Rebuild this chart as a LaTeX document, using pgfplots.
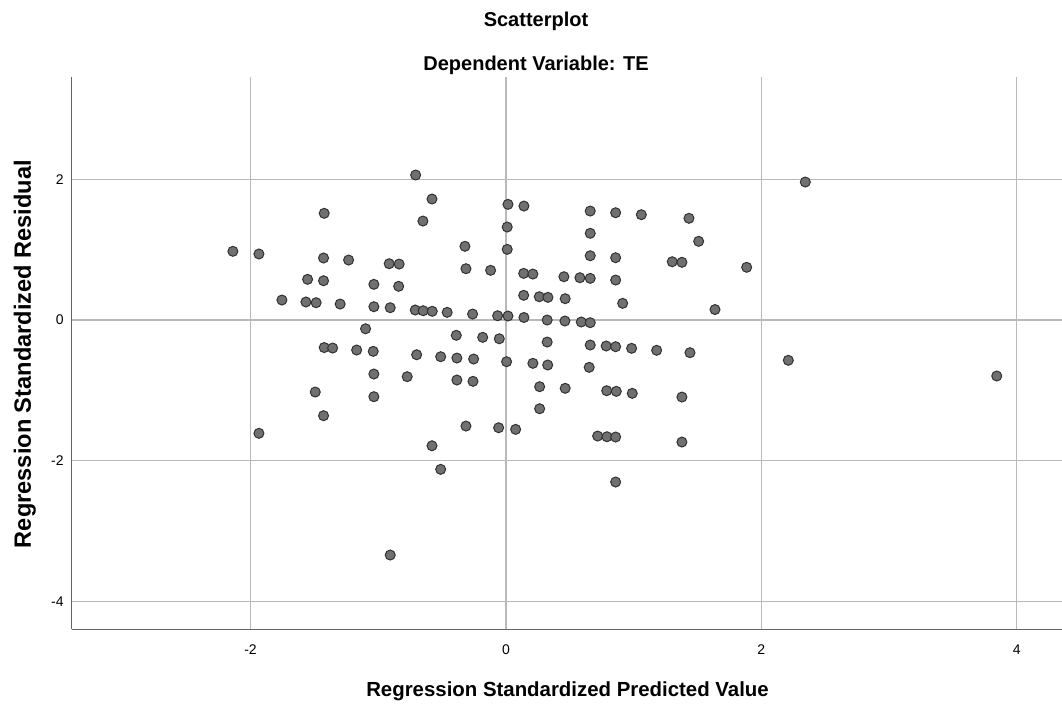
\documentclass[border=0pt]{standalone}
\usepackage{fontspec}
\setmainfont{Liberation Sans}
\usepackage{pgfplots}
\pgfplotsset{compat=1.18}
\definecolor{gridc}{RGB}{185,185,185}
\definecolor{axc}{RGB}{100,100,100}
\definecolor{dotfill}{RGB}{112,112,112}
\definecolor{dotedge}{RGB}{50,50,50}
\begin{document}
\begin{tikzpicture}
\path[use as bounding box] (-35.85pt,-39.35pt) rectangle (495.15pt,314.65pt);
\begin{axis}[
  at={(0pt,0pt)}, anchor=south west,
  scale only axis,
  width=495.15pt, height=276.15pt,
  xmin=-3.40, xmax=4.354,
  ymin=-4.393, ymax=3.452,
  axis lines*=left,
  axis line style={-, draw=axc, line width=0.7pt},
  xtick={-2,0,2,4}, xticklabels={-2,0,2,4},
  ytick={-4,-2,0,2}, yticklabels={-4,-2,0,2},
  major tick length=0pt,
  tick style={draw=none},
  xticklabel style={font=\fontsize{7}{8}\selectfont, yshift=-4pt},
  yticklabel style={font=\fontsize{7}{8}\selectfont, xshift=-0.5pt},
  grid=major,
  major grid style={draw=gridc, line width=0.6pt},
  clip=false,
]
\addplot[only marks, mark=*, mark size=2.5pt,
  mark options={fill=dotfill, draw=dotedge, line width=0.5pt}] table {
x y
-2.138 0.976
-1.934 0.938
-1.934 -1.609
-1.754 0.284
-1.566 0.256
-1.553 0.578
-1.493 -1.023
-1.486 0.246
-1.428 0.881
-1.428 0.558
-1.428 -1.359
-1.423 1.516
-1.423 -0.391
-1.357 -0.398
-1.298 0.227
-1.232 0.852
-1.169 -0.426
-1.099 -0.124
-1.039 -0.445
-1.034 0.507
-1.034 0.189
-1.034 -0.767
-1.034 -1.089
-0.914 0.800
-0.836 0.795
-0.840 0.479
-0.906 0.175
-0.906 -3.338
-0.773 -0.805
-0.707 2.060
-0.710 0.142
-0.699 -0.493
-0.650 1.406
-0.648 0.132
-0.579 1.719
-0.577 0.124
-0.579 -1.786
-0.511 -0.521
-0.511 -2.121
-0.460 0.109
-0.389 -0.217
-0.384 -0.540
-0.384 -0.852
-0.321 1.047
-0.313 0.729
-0.313 -1.506
-0.261 0.085
-0.253 -0.554
-0.258 -0.871
-0.182 -0.246
-0.120 0.706
-0.065 0.061
-0.052 -0.266
-0.057 -1.530
0.005 -0.592
0.016 1.643
0.010 1.321
0.010 1.004
0.016 0.057
0.076 -1.553
0.139 0.663
0.211 0.653
0.141 1.619
0.139 0.351
0.141 0.036
0.211 -0.615
0.261 0.331
0.329 0.322
0.264 -0.947
0.264 -1.260
0.323 0.000
0.323 -0.313
0.327 -0.639
0.454 0.615
0.464 0.303
0.462 -0.014
0.464 -0.970
0.579 0.601
0.590 -0.028
0.660 1.548
0.660 1.232
0.660 0.913
0.660 0.592
0.660 -0.038
0.660 -0.355
0.652 -0.672
0.718 -1.648
0.785 -0.369
0.789 -1.004
0.791 -1.658
0.859 1.524
0.859 0.885
0.859 0.568
0.859 -0.379
0.864 -1.013
0.859 -1.662
0.859 -2.301
0.914 0.237
0.984 -0.402
0.989 -1.041
1.060 1.496
1.180 -0.430
1.302 0.828
1.378 0.820
1.378 -1.094
1.378 -1.733
1.433 1.445
1.441 -0.464
1.509 1.118
1.637 0.149
1.885 0.749
2.344 1.960
2.211 -0.572
3.843 -0.795
};
\end{axis}
\node[anchor=base, font=\fontsize{10}{12}\selectfont\bfseries] at (232.15pt,301.3pt) {Scatterplot};
\node[anchor=base, font=\fontsize{10}{12}\selectfont\bfseries] at (232.15pt,279.4pt) {Dependent Variable: TE};
\node[anchor=base, font=\fontsize{10.2}{12}\selectfont\bfseries] at (247.9pt,-33.7pt) {Regression Standardized Predicted Value};
\node[anchor=base, rotate=90, font=\fontsize{11.8}{14}\selectfont\bfseries] at (-20.35pt,137.65pt) {Regression Standardized Residual};
\end{tikzpicture}
\end{document}
